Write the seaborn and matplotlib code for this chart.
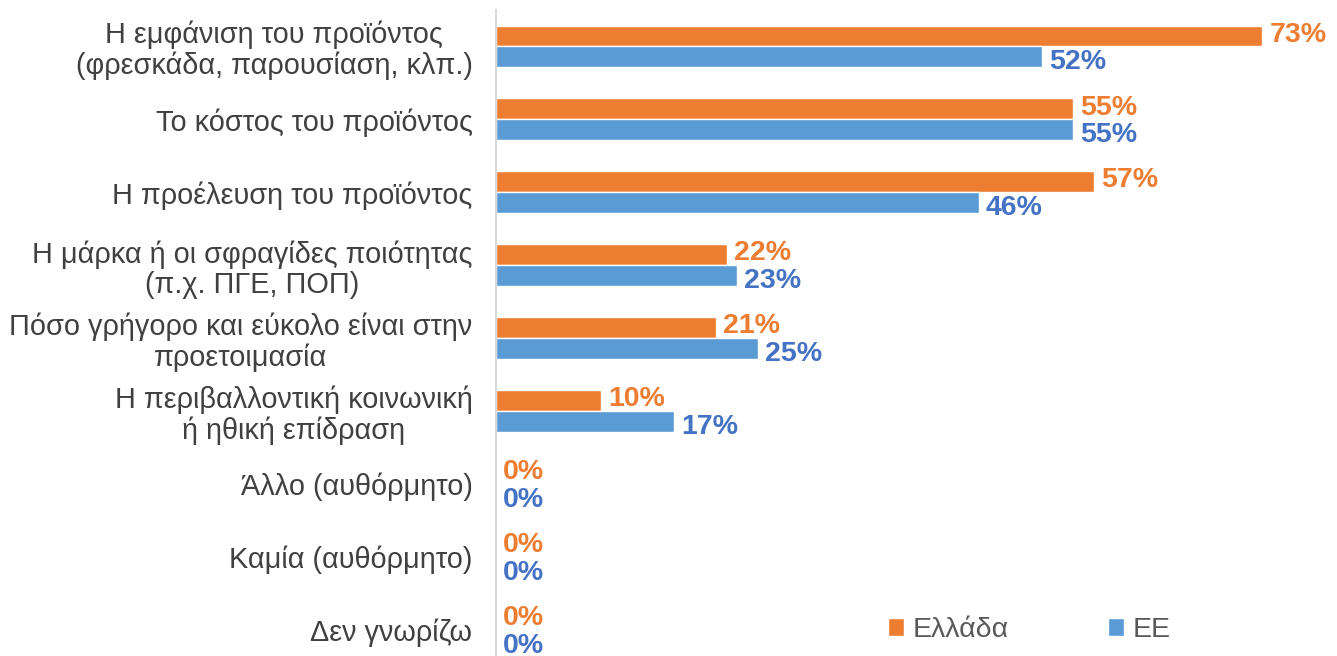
import pandas as pd
import seaborn as sns
import matplotlib
matplotlib.use('Agg')
import matplotlib.pyplot as plt

categories = [
    'Η εμφάνιση του προϊόντος\n(φρεσκάδα, παρουσίαση, κλπ.)',
    'Το κόστος του προϊόντος',
    'Η προέλευση του προϊόντος',
    'Η μάρκα ή οι σφραγίδες ποιότητας\n(π.χ. ΠΓΕ, ΠΟΠ)',
    'Πόσο γρήγορο και εύκολο είναι στην\nπροετοιμασία',
    'Η περιβαλλοντική κοινωνική\nή ηθική επίδραση',
    'Άλλο (αυθόρμητο)',
    'Καμία (αυθόρμητο)',
    'Δεν γνωρίζω',
]
greece = [73, 55, 57, 22, 21, 10, 0, 0, 0]
eu = [52, 55, 46, 23, 25, 17, 0, 0, 0]
series = ['Ελλάδα', 'ΕΕ']

bar_colors = ['#ED7D31', '#5B9BD5']
label_colors = ['#ED7D31', '#4472C4']

df = pd.DataFrame({
    'cat': categories * 2,
    'val': greece + eu,
    'series': [series[0]] * len(categories) + [series[1]] * len(categories),
})

sns.set_style('white')
plt.rcParams['font.family'] = ['Liberation Sans', 'DejaVu Sans']

fig = plt.figure(figsize=(13.37, 6.56), dpi=100)
ax = fig.add_axes([496 / 1337, 0, 1 - 496 / 1337, 1 - 10 / 656])

sns.barplot(data=df, x='val', y='cat', hue='series', hue_order=series,
            palette=bar_colors, width=0.575, orient='h', ax=ax,
            saturation=1, legend=True)

# value labels, blue nudged down a little, like the original
for cont, col, dy in zip(ax.containers, label_colors, [1, -3.7]):
    texts = ax.bar_label(cont, labels=[f'{v:.0f}%' for v in cont.datavalues],
                         padding=5, color=col, fontsize=20.5, fontweight='bold')
    for t in texts:
        t.xyann = (t.xyann[0], dy)

ax.set_xlim(0, 80.1)
ax.set_ylim(8.5 - 10.5 / 73, -0.5)
ax.set_xlabel('')
ax.set_ylabel('')
ax.set_xticks([])
ax.tick_params(axis='y', length=0, pad=17, labelsize=20.8, labelcolor='#404040')
for lab in ax.get_yticklabels():
    lab.set_linespacing(1.1)
    lab.set_multialignment('center')
for s in ['top', 'right', 'bottom']:
    ax.spines[s].set_visible(False)
ax.spines['left'].set_color('#D9D9D9')
ax.spines['left'].set_linewidth(1.5)

leg = ax.legend(loc='center left', bbox_to_anchor=(888 / 1337, 1 - 630 / 656),
                bbox_transform=fig.transFigure, ncol=2, frameon=False,
                fontsize=20.5, handlelength=0.55, handleheight=0.55,
                handletextpad=0.3, columnspacing=3.5, borderpad=0, borderaxespad=0)
for t in leg.get_texts():
    t.set_color('#595959')

fig.savefig('out.png', dpi=100)
